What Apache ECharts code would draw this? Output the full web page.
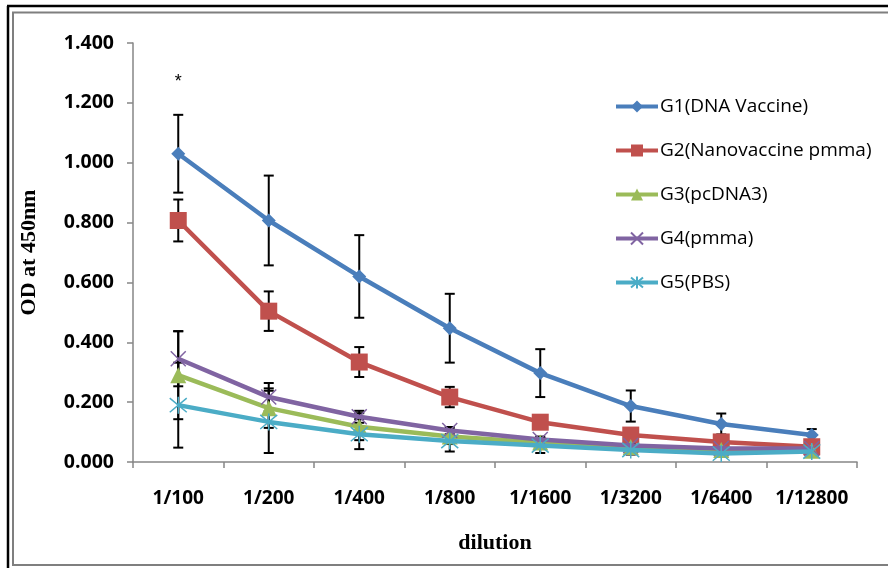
<!DOCTYPE html>
<html>
<head>
<meta charset="utf-8">
<script src="https://cdn.jsdelivr.net/npm/echarts@6/dist/echarts.min.js"></script>
<style>
html,body{margin:0;padding:0;background:#fff;}
#chart{width:888px;height:568px;}
</style>
</head>
<body>
<div id="chart"></div>
<script>
const categories = ['1/100','1/200','1/400','1/800','1/1600','1/3200','1/6400','1/12800'];
const yTicks = [0, 0.2, 0.4, 0.6, 0.8, 1.0, 1.2, 1.4];
const seriesNames = ['G1(DNA Vaccine)','G2(Nanovaccine pmma)','G3(pcDNA3)','G4(pmma)','G5(PBS)'];
const g1 = [1.030, 0.807, 0.620, 0.447, 0.297, 0.187, 0.127, 0.090];
const g1Err = [0.130, 0.150, 0.138, 0.115, 0.080, 0.052, 0.035, 0.020];
const g2 = [0.807, 0.504, 0.334, 0.217, 0.133, 0.090, 0.067, 0.051];
const g2Err = [0.070, 0.066, 0.050, 0.034, 0.020, 0.015, 0.012, 0.010];
const g3 = [0.290, 0.180, 0.118, 0.085, 0.065, 0.050, 0.040, 0.038];
const g3Err = [0.147, 0.066, 0.045, 0.025, 0.015, 0.012, 0.010, 0.008];
const g4 = [0.345, 0.217, 0.151, 0.105, 0.075, 0.055, 0.045, 0.045];
const g4Err = [0.092, 0.047, 0.020, 0.012, 0.010, 0.008, 0.008, 0.006];
const g5 = [0.190, 0.134, 0.093, 0.070, 0.055, 0.040, 0.028, 0.035];
const g5Err = [0.142, 0.104, 0.050, 0.035, 0.025, 0.015, 0.010, 0.008];
const starNote = {category: '1/100', value: 1.27, text: '*'};

const colors = ['#4A7EBB', '#C0504D', '#9BBB59', '#8064A2', '#4BACC6'];
const means = [g1, g2, g3, g4, g5];
const errs = [g1Err, g2Err, g3Err, g4Err, g5Err];
const symbols = [
  'diamond',
  'rect',
  'triangle',
  'path://M0,0L20,20M20,0L0,20',
  'path://M0,0L20,20M20,0L0,20M10,-2L10,22'
];
const symbolSizes = [14, 17, 16, 15, 17];

const chart = echarts.init(document.getElementById('chart'), null, {renderer: 'canvas'});

function errRender(params, api) {
  const x = api.value(0), y = api.value(1), e = api.value(2);
  const top = api.coord([x, y + e]);
  const bot = api.coord([x, y - e]);
  const hw = 5;
  const st = {stroke: '#000', lineWidth: 2};
  return {
    type: 'group',
    children: [
      {type: 'line', shape: {x1: top[0], y1: top[1], x2: bot[0], y2: bot[1]}, style: st},
      {type: 'line', shape: {x1: top[0] - hw, y1: top[1], x2: top[0] + hw, y2: top[1]}, style: st},
      {type: 'line', shape: {x1: bot[0] - hw, y1: bot[1], x2: bot[0] + hw, y2: bot[1]}, style: st}
    ]
  };
}

const series = [];
means.forEach((m, k) => {
  series.push({
    name: 'err' + k,
    type: 'custom',
    renderItem: errRender,
    encode: {x: 0, y: 1},
    data: categories.map((c, i) => [i, m[i], errs[k][i]]),
    z: 1,
    silent: true
  });
});
means.forEach((m, k) => {
  const s = {
    name: seriesNames[k],
    type: 'line',
    data: m,
    symbol: symbols[k],
    symbolSize: symbolSizes[k],
    showAllSymbol: true,
    lineStyle: {color: colors[k], width: 4.5},
    itemStyle: {color: colors[k], borderColor: colors[k], borderWidth: k >= 3 ? 1.5 : 0},
    z: 2 + k * 0.01,
    animation: false
  };
  if (k === 0) {
    s.markPoint = {
      symbol: 'circle',
      symbolSize: 1,
      itemStyle: {color: 'rgba(0,0,0,0)'},
      label: {show: true, formatter: starNote.text, color: '#000', fontSize: 18, fontFamily: 'Liberation Sans', position: 'inside'},
      data: [{coord: [starNote.category, starNote.value]}]
    };
  }
  series.push(s);
});

const option = {
  animation: false,
  backgroundColor: '#fff',
  grid: {left: 133, right: 31, top: 43, bottom: 106, containLabel: false},
  legend: {
    orient: 'vertical',
    left: 609,
    top: 91,
    data: seriesNames,
    itemWidth: 42,
    itemHeight: 15,
    itemGap: 23,
    lineStyle: {width: 4},
    textStyle: {fontFamily: 'Open Sans', fontSize: 19, color: '#000', lineHeight: 21, padding: [0, 0, 0, -3]},
    selectedMode: false
  },
  xAxis: {
    type: 'category',
    data: categories,
    boundaryGap: true,
    name: 'dilution',
    nameLocation: 'middle',
    nameGap: 70,
    nameTextStyle: {fontFamily: 'Liberation Serif', fontWeight: 'bold', fontSize: 22, color: '#000'},
    axisLine: {lineStyle: {color: '#868686', width: 1.5}},
    axisTick: {show: true, alignWithLabel: false, interval: 0, length: 6, lineStyle: {color: '#868686', width: 1.5}},
    axisLabel: {interval: 0, hideOverlap: false, margin: 27, fontFamily: 'Open Sans', fontWeight: 'bold', fontSize: 19, color: '#000'},
    splitLine: {show: false}
  },
  yAxis: {
    type: 'value',
    min: 0,
    max: 1.4,
    interval: 0.2,
    name: 'OD at 450nm',
    nameLocation: 'middle',
    nameGap: 93,
    nameTextStyle: {fontFamily: 'Liberation Serif', fontWeight: 'bold', fontSize: 22, color: '#000'},
    axisLine: {show: true, lineStyle: {color: '#868686', width: 1.5}},
    axisTick: {show: true, length: 6, lineStyle: {color: '#868686', width: 1.5}},
    axisLabel: {margin: 19, fontFamily: 'Open Sans', fontWeight: 'bold', fontSize: 19.5, color: '#000',
      formatter: v => v.toFixed(3)},
    splitLine: {show: false}
  },
  graphic: [
    {type: 'line', shape: {x1: 8, y1: 6, x2: 8, y2: 568}, style: {stroke: '#000', lineWidth: 2.5}, silent: true},
    {type: 'line', shape: {x1: 7, y1: 6, x2: 888, y2: 6}, style: {stroke: '#000', lineWidth: 2.5}, silent: true},
    {type: 'line', shape: {x1: 13, y1: 12.5, x2: 13, y2: 565}, style: {stroke: '#7f7f7f', lineWidth: 2}, silent: true},
    {type: 'line', shape: {x1: 12, y1: 12.5, x2: 888, y2: 12.5}, style: {stroke: '#7f7f7f', lineWidth: 2}, silent: true},
    {type: 'line', shape: {x1: 12, y1: 565, x2: 888, y2: 565}, style: {stroke: '#7f7f7f', lineWidth: 2}, silent: true}
  ],
  series: series
};
chart.setOption(option);
</script>
</body>
</html>
